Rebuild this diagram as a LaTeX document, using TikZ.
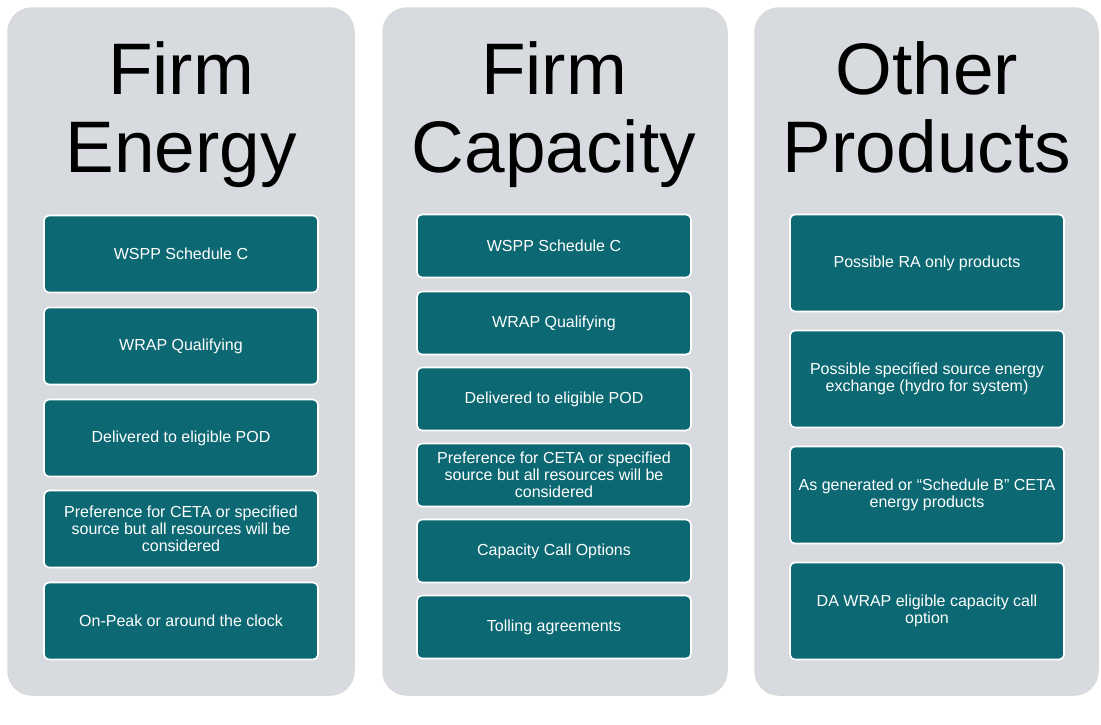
\documentclass[tikz,border=0pt]{standalone}
\usepackage{fontspec}
\setmainfont{Liberation Sans}
\definecolor{colgray}{RGB}{215,219,223}
\definecolor{boxteal}{RGB}{12,104,114}
\tikzset{
  column/.style={fill=colgray, draw=gray!30, line width=1.5pt, rounded corners=24pt},
  title/.style={align=center, font=\fontsize{73}{78}\selectfont},
  item/.style={fill=boxteal, draw=white, line width=1.6pt, rounded corners=5pt,
    text=white, align=center, minimum width=274pt,
    font=\fontsize{16}{17}\selectfont},
}

\begin{document}
\begin{tikzpicture}[x=1pt, y=-1pt]
  \useasboundingbox (0,0) rectangle (1101,724);
  \fill[white] (0,0) rectangle (1101,724);

  \begin{scope}[shift={(0,0)}] % left column
    \draw[column] (8,8) rectangle (354,695);
    % Title on top
    \node[title] (energy) at (181,115) {Firm\\Energy};
    \node[item, minimum height=77pt] (en1) at (181,254) {WSPP Schedule C};
    \node[item, minimum height=77pt] (en2) at (181,346) {WRAP Qualifying};
    \node[item, minimum height=77pt] (en3) at (181,438) {Delivered to eligible POD};
    \node[item, minimum height=77pt] (en4) at (181,529) {Preference for CETA or specified\\source but all resources will be\\considered};
    \node[item, minimum height=77pt] (en5) at (181,621) {On-Peak or around the clock};
  \end{scope}

  \begin{scope}[shift={(373,0)}] % middle column
    \draw[column] (10,8) rectangle (354,695);
    % Title on top
    \node[title] (capacity) at (181,115) {Firm\\Capacity};
    \node[item, minimum height=63pt] (ca1) at (181,246) {WSPP Schedule C};
    \node[item, minimum height=63pt] (ca2) at (181,323) {WRAP Qualifying};
    \node[item, minimum height=63pt] (ca3) at (181,399) {Delivered to eligible POD};
    \node[item, minimum height=63pt] (ca4) at (181,475) {Preference for CETA or specified\\source but all resources will be\\considered};
    \node[item, minimum height=63pt] (ca5) at (181,551) {Capacity Call Options};
    \node[item, minimum height=63pt] (ca6) at (181,627) {Tolling agreements};
  \end{scope}

  \begin{scope}[shift={(746,0)}] % right column
    \draw[column] (9,8) rectangle (352,695);
    % Title on top
    \node[title] (other) at (181,107) {Other\\Products};
    \node[item, minimum height=97pt] (ot1) at (181,263) {Possible RA only products};
    \node[item, minimum height=97pt] (ot2) at (181,379) {Possible specified source energy\\exchange (hydro for system)};
    \node[item, minimum height=97pt] (ot3) at (181,495) {As generated or “Schedule B” CETA\\energy products};
    \node[item, minimum height=97pt] (ot4) at (181,611) {DA WRAP eligible capacity call\\option};
  \end{scope}
\end{tikzpicture}
\end{document}
